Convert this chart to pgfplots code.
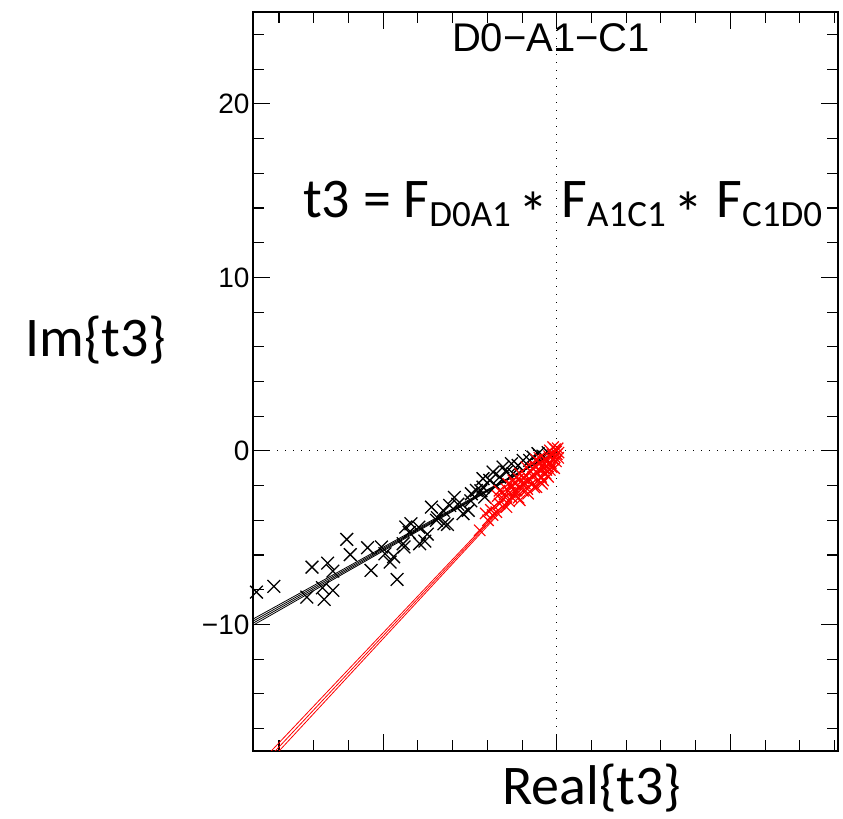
\documentclass[border=0pt]{standalone}
\usepackage{pgfplots}
\pgfplotsset{compat=1.18}
\usepackage{fontspec}
\setmainfont{Liberation Sans}
\newfontfamily\calfont{Carlito}
\newcommand{\subt}[1]{\raisebox{-9bp}{\fontsize{37bp}{40bp}\selectfont #1}}
\newcommand{\myast}{\hspace{8bp}\raisebox{-17bp}{\fontsize{60bp}{60bp}\selectfont *}}
\begin{document}
\begin{tikzpicture}
\path[use as bounding box] (0bp,0bp) rectangle (843bp,819bp);
\begin{axis}[at={(253bp,68bp)}, anchor=south west,
  width=585bp, height=739bp, scale only axis,
  xmin=-17.5, xmax=16.2, ymin=-17.3, ymax=25.3,
  xtick={-10,0,10}, xticklabels={},
  minor xtick={-16,-14,-12,-8,-6,-4,-2,2,4,6,8,12,14,16},
  ytick={-10,0,10,20}, yticklabels={−10,0,10,20},
  minor ytick={-16,-14,-12,-8,-6,-4,-2,2,4,6,8,12,14,16,18,22,24},
  major tick length=17bp, minor tick length=11bp,
  tick style={black, line width=1.1bp},
  axis line style={black, line width=1.2bp},
  yticklabel style={font=\fontsize{28bp}{30bp}\selectfont},
  clip=true]
\addplot[black, line width=1bp, dash pattern=on 1.3bp off 6.7bp] coordinates {(0,-17.3) (0,25.3)};
\addplot[black, line width=1bp, dash pattern=on 1.3bp off 6.7bp] coordinates {(-17.5,0) (16.2,0)};
% black crosses
\addplot[only marks, mark=x, mark size=9bp, mark options={line width=1.3bp, black}] coordinates {
(-17.3,-8.14) (-16.3,-7.81) (-14.4,-8.43) (-14.1,-6.7) (-13.5,-7.89) (-13.4,-8.56)
(-13.2,-6.47) (-12.9,-6.93) (-12.9,-8.04) (-12.1,-5.1) (-11.9,-5.98) (-10.9,-5.58)
(-10.7,-6.89) (-10.1,-5.54) (-9.9,-5.93) (-9.6,-6.41) (-9.4,-6.1) (-9.2,-7.41)
(-8.8,-5.54) (-8.7,-4.39) (-8.5,-4.7) (-8.4,-4.2) (-8.85,-5.35) (-7.95,-4.4)
(-7.9,-5.35) (-7.6,-5.2) (-7.46,-4.8) (-7.22,-3.24) (-6.93,-4.0) (-6.88,-3.85)
(-6.55,-3.43) (-6.5,-4.2) (-6.3,-4.24) (-6.17,-3.14) (-5.9,-2.68) (-5.7,-3.08)
(-5.4,-3.62) (-5.1,-3.43) (-4.95,-2.88) (-4.92,-2.47) (-4.63,-2.28) (-4.37,-2.3)
(-4.25,-2.09) (-4.25,-1.6) (-4.15,-2.66) (-3.86,-1.7) (-3.67,-1.22) (-3.5,-2.0)
(-3.29,-1.51) (-3.1,-0.93) (-2.9,-1.22) (-2.61,-0.74) (-2.52,-1.31) (-2.23,-0.84)
(-1.94,-0.55) (-1.56,-0.55) (-1.37,-0.36) (-1.08,-0.16) (-0.8,-0.3) (-0.5,-0.1)
};
% red crosses
\addplot[only marks, mark=x, mark size=8bp, mark options={line width=1.2bp, red}] coordinates {
(-4.44,-4.58) (-3.96,-4.0) (-3.7,-3.7) (-3.48,-3.53) (-3.29,-3.04) (-3.3,-2.3)
(-3.1,-2.76) (-2.9,-3.24) (-2.9,-2.2) (-2.75,-2.9) (-2.61,-2.66) (-2.5,-1.7)
(-2.45,-2.3) (-2.32,-2.28) (-2.2,-2.7) (-2.13,-2.85) (-2.13,-1.31) (-2.0,-1.9)
(-1.95,-2.3) (-1.84,-1.89) (-1.8,-1.4) (-1.75,-0.93) (-1.7,-2.2) (-1.65,-2.47)
(-1.6,-1.6) (-1.5,-1.2) (-1.45,-1.9) (-1.37,-1.51) (-1.3,-2.1) (-1.25,-0.9)
(-1.17,-2.09) (-1.1,-1.3) (-1.05,-1.7) (-0.98,-1.12) (-0.95,-0.7) (-0.9,-1.5)
(-0.85,-1.9) (-0.79,-1.7) (-0.75,-1.0) (-0.7,-0.5) (-0.65,-1.3) (-0.6,-0.55)
(-0.55,-0.9) (-0.5,-1.5) (-0.45,-0.3) (-0.4,0.03) (-0.4,-1.1) (-0.35,-0.7)
(-0.3,-0.93) (-0.25,-0.2) (-0.21,0.22) (-0.2,-0.5) (-0.15,-1.0) (-0.12,-0.36)
(-0.1,0.1) (-0.05,-0.6) (0.0,-0.2) (0.05,0.15) (0.08,-0.4) (-3.6,-3.2)
(-4.1,-3.6) (-3.8,-3.4) (-2.7,-2.4) (-2.4,-1.9) (-1.9,-1.6) (-1.4,-1.0)
(-2.6,-2.0) (-3.0,-2.5) (-2.2,-1.6) (-3.4,-2.6) (-2.8,-1.9) (-1.2,-0.5)
(0.1,-0.1) (-0.6,-1.1) (-1.0,-0.4)
};
% red lines
\addplot[red, line width=0.8bp] coordinates {(0.2,0.3) (-16.45,-17.3)};
\addplot[red, line width=0.8bp] coordinates {(0.25,0.3) (-16.22,-17.3)};
\addplot[red, line width=0.8bp] coordinates {(0.3,0.3) (-16.0,-17.3)};
% black lines
\addplot[black, line width=0.8bp] coordinates {(0.05,0.0) (-17.6,-9.75)};
\addplot[black, line width=0.8bp] coordinates {(0.05,-0.02) (-17.6,-9.87)};
\addplot[black, line width=0.8bp] coordinates {(0.03,-0.04) (-17.6,-9.99)};
\addplot[black, line width=0.8bp] coordinates {(0.0,-0.06) (-17.6,-10.11)};
\end{axis}
\node[anchor=base, inner sep=0pt, font=\fontsize{40bp}{44bp}\selectfont] at (551bp,767bp) {D0−A1−C1};
\node[anchor=base west, inner sep=0pt] at (303bp,601bp) {\calfont\fontsize{56bp}{60bp}\selectfont t3 = F\subt{D0A1}\myast{} F\subt{A1C1}\myast{} F\subt{C1D0}};
\node[anchor=base west, inner sep=0pt] at (25bp,462bp) {\calfont\fontsize{56bp}{60bp}\selectfont Im\{t3\}};
\node[anchor=base west, inner sep=0pt] at (502bp,15bp) {\calfont\fontsize{56bp}{60bp}\selectfont Real\{t3\}};
\end{tikzpicture}
\end{document}
